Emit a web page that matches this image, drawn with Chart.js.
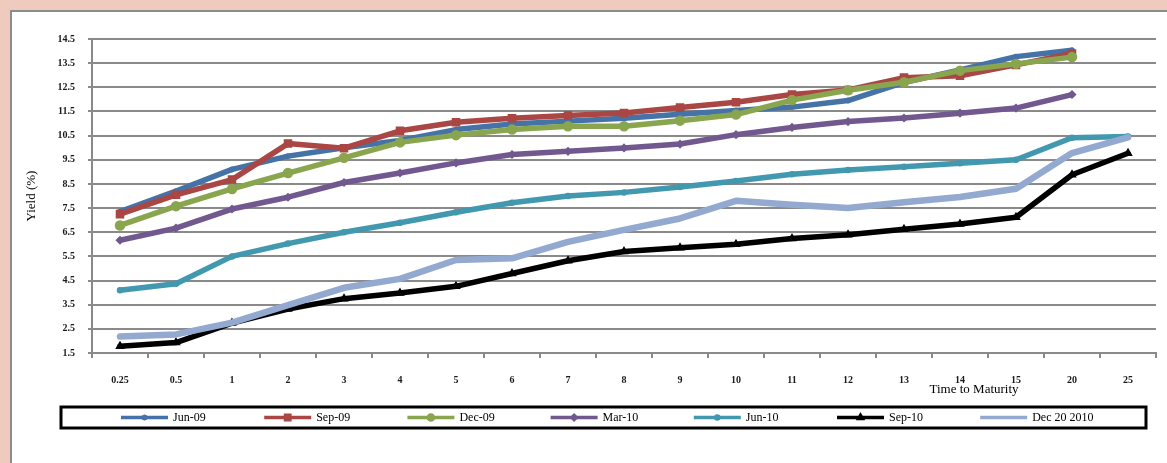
<!DOCTYPE html>
<html>
<head>
<meta charset="utf-8">
<script src="https://cdn.jsdelivr.net/npm/chart.js@4.4.1/dist/chart.umd.min.js"></script>
<style>
  html, body { margin: 0; padding: 0; background: #fff; }
  #wrap { width: 1167px; height: 463px; }
  canvas { display: block; }
</style>
</head>
<body>
<div id="wrap"><canvas id="yieldCurve" width="1167" height="463"></canvas></div>
<script>
// Maturities (years) along the x axis
const maturities = ['0.25', '0.5', '1', '2', '3', '4', '5', '6', '7', '8', '9', '10', '11', '12', '13', '14', '15', '20', '25'];

// Yield (%) by maturity for each curve date
const jun09 = [7.35, 8.2, 9.1, 9.65, 10.0, 10.3, 10.75, 10.98, 11.1, 11.22, 11.38, 11.54, 11.68, 11.95, 12.7, 13.22, 13.77, 14.03];
const sep09 = [7.25, 8.05, 8.68, 10.17, 9.98, 10.7, 11.05, 11.22, 11.33, 11.44, 11.66, 11.88, 12.2, 12.39, 12.9, 12.98, 13.43, 13.9];
const dec09 = [6.78, 7.58, 8.29, 8.95, 9.58, 10.22, 10.52, 10.75, 10.89, 10.89, 11.12, 11.37, 11.97, 12.38, 12.71, 13.19, 13.47, 13.75];
const mar10 = [6.17, 6.67, 7.46, 7.95, 8.56, 8.95, 9.37, 9.72, 9.85, 9.99, 10.15, 10.54, 10.84, 11.08, 11.23, 11.43, 11.64, 12.2];
const jun10 = [4.1, 4.37, 5.5, 6.03, 6.5, 6.89, 7.33, 7.72, 8.0, 8.15, 8.37, 8.62, 8.9, 9.08, 9.21, 9.36, 9.5, 10.41, 10.46];
const sep10 = [1.78, 1.93, 2.74, 3.32, 3.75, 3.98, 4.26, 4.79, 5.32, 5.7, 5.86, 6.0, 6.24, 6.4, 6.62, 6.84, 7.12, 8.88, 9.77];
const dec20_2010 = [2.18, 2.27, 2.76, 3.48, 4.2, 4.57, 5.35, 5.42, 6.1, 6.6, 7.07, 7.8, 7.64, 7.5, 7.74, 7.96, 8.3, 9.78, 10.43];

// Y axis tick values
const yTicks = [1.5, 2.5, 3.5, 4.5, 5.5, 6.5, 7.5, 8.5, 9.5, 10.5, 11.5, 12.5, 13.5, 14.5];

const seriesNames = ['Jun-09', 'Sep-09', 'Dec-09', 'Mar-10', 'Jun-10', 'Sep-10', 'Dec 20 2010'];
const seriesValues = [jun09, sep09, dec09, mar10, jun10, sep10, dec20_2010];

const SERIF = "'Liberation Serif', 'DejaVu Serif', serif";
const GRID = '#8a8a8a';

// Line / marker styling per series
const styles = [
  { color: '#4572A7', point: 'star',     radius: 3,   legendRadius: 3 },
  { color: '#AA4643', point: 'rect',     radius: 5,   legendRadius: 4.5 },
  { color: '#89A54E', point: 'circle',   radius: 4.5, legendRadius: 3.5 },
  { color: '#71588F', point: 'rectRot',  radius: 3.5, legendRadius: 3.5 },
  { color: '#4198AF', point: 'circle',   radius: 2.5, legendRadius: 2.5 },
  { color: '#000000', point: 'triangle', radius: 4,   legendRadius: 4 },
  { color: '#93A9CF', point: false,      radius: 0,   legendRadius: 0 }
];

const datasets = seriesNames.map((name, i) => ({
  label: name,
  data: seriesValues[i],
  borderColor: styles[i].color,
  backgroundColor: styles[i].color,
  borderWidth: i === 6 ? 6.5 : 5.5,
  borderJoinStyle: 'round',
  borderCapStyle: 'round',
  pointStyle: styles[i].point,
  pointRadius: styles[i].radius,
  pointBorderWidth: 1.5,
  pointHoverRadius: styles[i].radius,
  tension: 0,
  order: seriesNames.length - i
}));

// Page frame: tinted surround and white panel with grey rule
const framePlugin = {
  id: 'frame',
  beforeDraw(chart) {
    const ctx = chart.ctx;
    ctx.save();
    ctx.fillStyle = '#EFCABE';
    ctx.fillRect(0, 0, chart.width, chart.height);
    ctx.fillStyle = '#ffffff';
    ctx.fillRect(10, 10, chart.width, chart.height);
    ctx.strokeStyle = '#8c8c8c';
    ctx.lineWidth = 2;
    ctx.beginPath();
    ctx.moveTo(11, chart.height + 5);
    ctx.lineTo(11, 11);
    ctx.lineTo(chart.width + 5, 11);
    ctx.stroke();
    ctx.restore();
  }
};

// X axis title and boxed legend below the plot
const annotatePlugin = {
  id: 'annotate',
  afterDraw(chart) {
    const ctx = chart.ctx;
    const area = chart.chartArea;
    ctx.save();
    ctx.fillStyle = '#000';
    ctx.font = '13px ' + SERIF;
    ctx.textAlign = 'center';
    ctx.textBaseline = 'middle';
    ctx.fillText('Time to Maturity', area.left + (area.right - area.left) * 0.829, 390);

    // legend box
    const boxL = 61, boxR = 1146, boxT = 407, boxB = 428;
    ctx.strokeStyle = '#000';
    ctx.lineWidth = 3;
    ctx.strokeRect(boxL, boxT, boxR - boxL, boxB - boxT);

    const midY = (boxT + boxB) / 2;
    const slot = 143.2;
    ctx.font = '12px ' + SERIF;
    ctx.textAlign = 'left';
    chart.data.datasets.forEach((ds, i) => {
      const x0 = 121 + i * slot;
      const x1 = x0 + 47;
      ctx.strokeStyle = ds.borderColor;
      ctx.lineWidth = 3.5;
      ctx.lineCap = 'butt';
      ctx.beginPath();
      ctx.moveTo(x0, midY);
      ctx.lineTo(x1, midY);
      ctx.stroke();
      if (styles[i].point) {
        ctx.fillStyle = ds.borderColor;
        ctx.strokeStyle = ds.borderColor;
        ctx.lineWidth = 1.5;
        Chart.helpers.drawPoint(ctx, {
          pointStyle: styles[i].point,
          radius: styles[i].legendRadius,
          borderWidth: 1.5,
          rotation: 0
        }, (x0 + x1) / 2, midY);
      }
      ctx.fillStyle = '#000';
      ctx.fillText(ds.label, x1 + 5, midY + 0.5);
    });
    ctx.restore();
  }
};

new Chart(document.getElementById('yieldCurve'), {
  type: 'line',
  data: { labels: maturities, datasets },
  plugins: [framePlugin, annotatePlugin],
  options: {
    responsive: false,
    animation: false,
    events: [],
    layout: { padding: { top: 39, right: 11, bottom: 0, left: 0 } },
    plugins: {
      legend: { display: false },
      tooltip: { enabled: false },
      title: { display: false }
    },
    scales: {
      x: {
        type: 'category',
        offset: true,
        grid: {
          offset: true,
          drawOnChartArea: false,
          drawTicks: true,
          tickLength: 5,
          color: GRID,
          lineWidth: 2
        },
        border: { display: true, color: GRID, width: 2 },
        ticks: {
          autoSkip: false,
          maxRotation: 0,
          padding: 16,
          color: '#1a1a1a',
          font: { family: SERIF, size: 10, weight: 'bold' }
        },
        afterFit(scale) { scale.height = 110; }
      },
      y: {
        min: 1.5,
        max: 14.5,
        afterBuildTicks(scale) { scale.ticks = yTicks.map(v => ({ value: v })); },
        grid: {
          color: GRID,
          lineWidth: 2,
          drawTicks: true,
          tickLength: 4
        },
        border: { display: true, color: GRID, width: 2 },
        ticks: {
          padding: 13,
          color: '#1a1a1a',
          font: { family: SERIF, size: 10, weight: 'bold' },
          callback: (v) => Number(v).toFixed(1)
        },
        title: {
          display: true,
          text: 'Yield (%)',
          color: '#000',
          font: { family: SERIF, size: 13 },
          padding: { top: 24, bottom: 0 }
        },
        afterFit(scale) { scale.width = 92; }
      }
    }
  }
});
</script>
</body>
</html>
